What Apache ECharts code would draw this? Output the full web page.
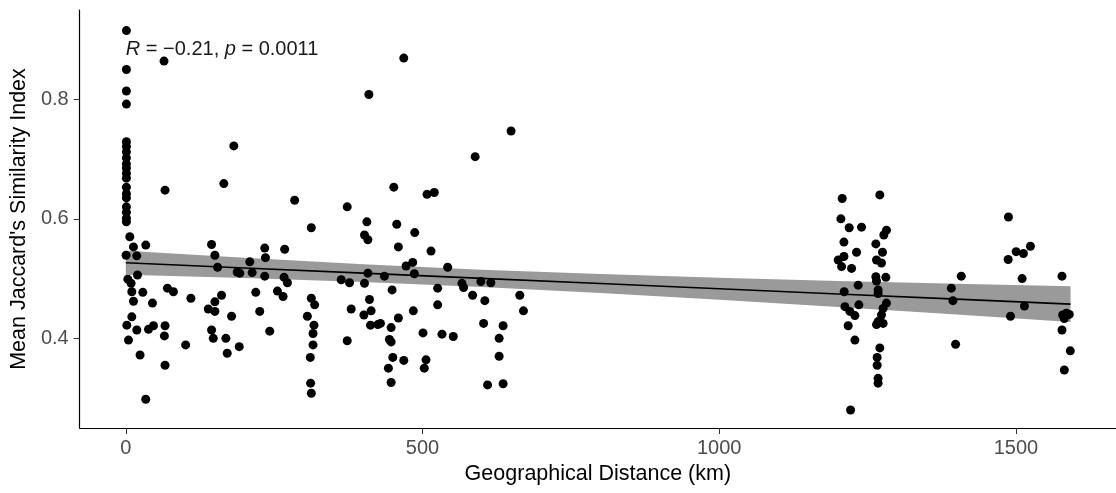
<!DOCTYPE html>
<html>
<head>
<meta charset="utf-8">
<title>Jaccard similarity vs geographical distance</title>
<script src="https://cdn.jsdelivr.net/npm/echarts@6/dist/echarts.min.js"></script>
<style>
  html, body { margin: 0; padding: 0; background: #ffffff; }
  #chart { width: 1116px; height: 493px; }
</style>
</head>
<body>
<div id="chart"></div>
<script>
// Pairwise site comparisons: geographical distance (km) and mean Jaccard similarity
const distanceKm = [
  1, 1, 1, 1, 1, 1, 1, 1, 1, 1, 1, 1, 1, 1, 1, 1, 1, 1, 1,
  6.7, 12.9, 33.6, 0.5, 18.5, 19.7, 3.4, 8.9, 10.1, 28.6, 12.9, 44.9, 10.1, 1.7, 18.5, 38.2, 46.6, 4.5, 24.0, 33.6,
  66.1, 65.0, 66.1, 70.1, 80.2, 100.8, 109.7, 139.0, 150.1, 144.5, 150.1, 154.6, 150.1, 161.3, 144.5, 147.4, 168.6, 170.9,
  178.2, 191.1, 187.7, 192.1, 208.9, 212.9, 219.0, 225.7, 234.1, 235.3, 234.1, 242.5, 255.5, 265.0, 267.7, 266.7, 272.3,
  312.6, 312.6, 318.2, 305.9, 317.1, 315.5, 315.5, 310.9, 311.4, 312.6,
  363.0, 377.0, 379.8, 373.1, 402.2, 407.9, 407.9, 402.2, 410.6, 413.4, 401.2, 412.3, 424.7,
  64.4, 182.0, 165.2, 66.1, 284.5, 373.1, 406.2, 409.6, 468.4, 649.2, 588.7, 451.6, 507.6, 519.8, 456.6, 486.9, 459.3, 514.3,
  435.8, 472.3, 483.5, 486.2, 542.4, 448.7, 429.1, 447.1, 459.3, 484.5, 444.2, 447.1, 449.9, 468.4, 442.5, 447.1,
  500.8, 505.9, 503.0, 525.5, 525.5, 532.8, 551.8, 566.4, 569.2, 584.4, 598.3, 615.1, 605.0, 602.9, 609.6,
  629.1, 635.8, 629.1, 635.8, 663.9, 670.1,
  1207.2, 1270.6, 1205.0, 1219.0, 1239.8, 1281.8, 1277.3, 1210.1, 1263.9, 1231.4, 1275.1, 1200.5, 1210.1, 1206.2, 1223.0,
  1265.0, 1273.4, 1263.9, 1280.7, 1265.0, 1234.1, 1210.6, 1267.7, 1267.7, 1235.3, 1211.8, 1220.2, 1228.6, 1281.8, 1276.1,
  1273.4, 1267.7, 1276.1, 1265.0, 1217.3, 1228.6, 1270.6, 1266.1, 1266.1, 1267.7, 1267.7, 1221.3,
  1487.4, 1407.9, 1391.1, 1393.8, 1398.3, 1486.9, 1500.3, 1512.6, 1524.4, 1510.4, 1514.3, 1490.8,
  1577.6, 1578.7, 1584.9, 1589.9, 1581.5, 1577.6, 1591.6, 1581.5
];
const jaccardIndex = [
  0.915, 0.850, 0.814, 0.792, 0.729, 0.721, 0.712, 0.702, 0.692, 0.685, 0.676, 0.668, 0.653, 0.642, 0.635, 0.620, 0.611, 0.601, 0.595,
  0.570, 0.553, 0.556, 0.539, 0.538, 0.506, 0.499, 0.492, 0.478, 0.477, 0.462, 0.459, 0.436, 0.422, 0.414, 0.415, 0.421, 0.397, 0.372, 0.298,
  0.421, 0.404, 0.355, 0.484, 0.478, 0.389, 0.467, 0.449, 0.445, 0.557, 0.539, 0.519, 0.461, 0.472, 0.414, 0.400, 0.400, 0.375,
  0.437, 0.386, 0.511, 0.509, 0.528, 0.510, 0.477, 0.445, 0.551, 0.535, 0.504, 0.412, 0.479, 0.470, 0.549, 0.502, 0.493,
  0.585, 0.467, 0.456, 0.437, 0.422, 0.408, 0.389, 0.368, 0.325, 0.308,
  0.498, 0.493, 0.449, 0.396, 0.573, 0.565, 0.509, 0.492, 0.465, 0.446, 0.439, 0.422, 0.423,
  0.864, 0.722, 0.659, 0.648, 0.631, 0.620, 0.595, 0.808, 0.869, 0.747, 0.704, 0.653, 0.641, 0.644, 0.591, 0.577, 0.553, 0.546,
  0.504, 0.521, 0.527, 0.508, 0.519, 0.481, 0.425, 0.418, 0.434, 0.446, 0.398, 0.394, 0.368, 0.363, 0.350, 0.326,
  0.409, 0.364, 0.350, 0.484, 0.456, 0.407, 0.403, 0.492, 0.485, 0.472, 0.495, 0.493, 0.463, 0.425, 0.322,
  0.400, 0.421, 0.370, 0.324, 0.472, 0.446,
  0.634, 0.640, 0.600, 0.585, 0.586, 0.581, 0.573, 0.561, 0.558, 0.544, 0.544, 0.531, 0.537, 0.520, 0.517,
  0.531, 0.526, 0.503, 0.502, 0.496, 0.489, 0.478, 0.481, 0.475, 0.456, 0.453, 0.445, 0.438, 0.459, 0.450,
  0.439, 0.428, 0.425, 0.423, 0.421, 0.397, 0.384, 0.368, 0.355, 0.333, 0.325, 0.280,
  0.603, 0.504, 0.484, 0.463, 0.390, 0.532, 0.545, 0.542, 0.554, 0.500, 0.454, 0.437,
  0.504, 0.439, 0.442, 0.440, 0.433, 0.414, 0.379, 0.347
];

// Linear fit and its 95% confidence band
const fitX = [0, 200, 400, 600, 800, 1000, 1200, 1400, 1592];
const fitY = [0.5265, 0.5178, 0.5091, 0.5004, 0.4917, 0.4830, 0.4743, 0.4656, 0.4572];
const bandLow = [0.5065, 0.5009, 0.4941, 0.4859, 0.4759, 0.4646, 0.4525, 0.4398, 0.4273];
const bandHigh = [0.5465, 0.5347, 0.5241, 0.5149, 0.5075, 0.5014, 0.4961, 0.4914, 0.4871];

const xTicks = [0, 500, 1000, 1500];
const yTicks = [0.4, 0.6, 0.8];
const corrR = '−0.21';
const corrP = '0.0011';

const points = distanceKm.map((d, i) => [d, jaccardIndex[i]]);
const fitLine = fitX.map((x, i) => [x, fitY[i]]);
const bandData = fitX.map((x, i) => [x, bandLow[i], bandHigh[i]]);

const FONT = '"Liberation Sans", Arial, sans-serif';
const chart = echarts.init(document.getElementById('chart'), null, { renderer: 'canvas' });

chart.setOption({
  backgroundColor: '#ffffff',
  animation: false,
  grid: { left: 78, right: 0, top: 10, bottom: 65, containLabel: false },
  xAxis: {
    type: 'value',
    min: -77.7,
    max: 1668.6,
    name: 'Geographical Distance (km)',
    nameLocation: 'middle',
    nameGap: 34,
    nameTextStyle: { color: '#000', fontSize: 21.5, fontFamily: FONT },
    axisLine: { show: true, onZero: false, lineStyle: { color: '#000', width: 1.2 } },
    axisTick: { show: true, customValues: xTicks, length: 6, lineStyle: { color: '#333', width: 1 } },
    axisLabel: {
      customValues: xTicks, color: '#4d4d4d', fontSize: 20, fontFamily: FONT, margin: 10,
      formatter: v => String(v)
    },
    splitLine: { show: false }
  },
  yAxis: {
    type: 'value',
    min: 0.2499,
    max: 0.9495,
    name: "Mean Jaccard's Similarity Index",
    nameLocation: 'middle',
    nameGap: 38,
    nameTextStyle: { color: '#000', fontSize: 21.5, fontFamily: FONT },
    axisLine: { show: true, onZero: false, lineStyle: { color: '#000', width: 1.2 } },
    axisTick: { show: true, customValues: yTicks, length: 6, lineStyle: { color: '#333', width: 1 } },
    axisLabel: {
      customValues: yTicks, color: '#4d4d4d', fontSize: 20, fontFamily: FONT, margin: 11,
      formatter: v => v.toFixed(1)
    },
    splitLine: { show: false }
  },
  series: [
    {
      name: 'band',
      type: 'custom',
      z: 1,
      silent: true,
      data: bandData,
      renderItem: function (params, api) {
        if (params.dataIndex !== 0) return null;
        const upper = bandData.map(d => api.coord([d[0], d[2]]));
        const lower = bandData.slice().reverse().map(d => api.coord([d[0], d[1]]));
        return {
          type: 'polygon',
          shape: { points: upper.concat(lower) },
          style: { fill: '#9a9a9a' }
        };
      }
    },
    {
      name: 'fit',
      type: 'line',
      z: 2,
      data: fitLine,
      showSymbol: false,
      symbol: 'none',
      lineStyle: { color: '#000', width: 1.6 },
      silent: true
    },
    {
      name: 'points',
      type: 'scatter',
      z: 3,
      data: points,
      symbol: 'circle',
      symbolSize: 9,
      itemStyle: { color: '#000', opacity: 1 }
    }
  ]
});

// Correlation annotation anchored at the left of the data range
const anchor = chart.convertToPixel({ gridIndex: 0 }, [0, 0.884]);
chart.setOption({
  graphic: [{
    type: 'text',
    x: anchor[0],
    y: anchor[1],
    style: {
      text: '{i|R} = ' + corrR + ', {i|p} = ' + corrP,
      fill: '#1a1a1a',
      fontSize: 20,
      fontFamily: FONT,
      verticalAlign: 'middle',
      align: 'left',
      rich: {
        i: { fontStyle: 'italic', fontSize: 20, fontFamily: FONT, fill: '#1a1a1a' }
      }
    }
  }]
});
</script>
</body>
</html>
